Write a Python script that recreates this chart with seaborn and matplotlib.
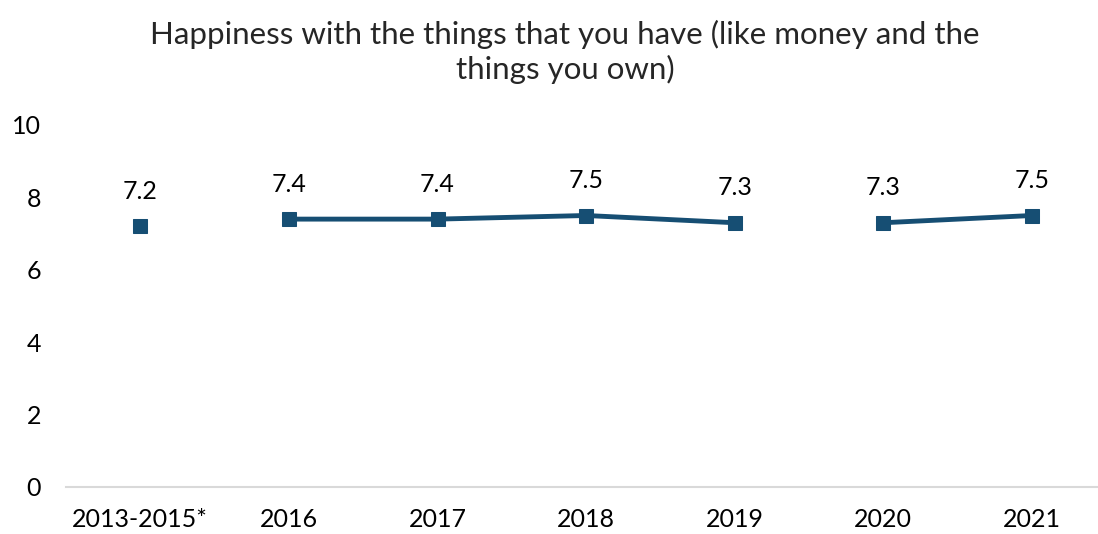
import matplotlib
matplotlib.use('Agg')

import matplotlib.pyplot as plt
import seaborn as sb
import pandas as pd

# chart data
years = ["2013-2015*", "2016", "2017", "2018", "2019", "2020", "2021"]
scores = [7.2, 7.4, 7.4, 7.5, 7.3, 7.3, 7.5]
segment = [0, 1, 1, 1, 1, 2, 2]   # line breaks between survey series

blue = "#164e73"

sb.set_style("white")
plt.rcParams['font.family'] = ['Lato', 'DejaVu Sans']

df = pd.DataFrame({'pos': range(len(years)), 'score': scores, 'seg': segment})

fig = plt.figure(figsize=(10.98, 5.34), dpi=100)
ax = fig.add_axes([66/1098, 47/534, 7*148.6/1098, 362/534])

sb.lineplot(data=df, x='pos', y='score', units='seg', estimator=None,
            color=blue, linewidth=3.5, marker='s', markersize=10,
            markeredgecolor=blue, ax=ax)

for i, v in enumerate(scores):
    ax.annotate(f"{v:.1f}", (i, v), xytext=(0, 17), textcoords='offset points',
                ha='center', va='bottom', fontsize=18, color='black')

ax.set_xlim(-0.5, len(years) - 0.5)
ax.set_ylim(0, 10)
ax.set_yticks(range(0, 11, 2))
ax.set_xticks(range(len(years)))
ax.set_xticklabels(years)
ax.tick_params(axis='both', labelsize=18, length=0, colors='black')
ax.tick_params(axis='x', pad=15)
ax.tick_params(axis='y', pad=18)
ax.set_xlabel("")
ax.set_ylabel("")
ax.grid(False)
for s in ['top', 'left', 'right']:
    ax.spines[s].set_visible(False)
ax.spines['bottom'].set_color('#d9d9d9')
ax.spines['bottom'].set_linewidth(1.5)

fig.text(565/1098, 1 - 52/534,
         "Happiness with the things that you have (like money and the\nthings you own)",
         ha='center', va='center', fontsize=22.5, linespacing=1.25)

fig.savefig("out.png", dpi=100)
